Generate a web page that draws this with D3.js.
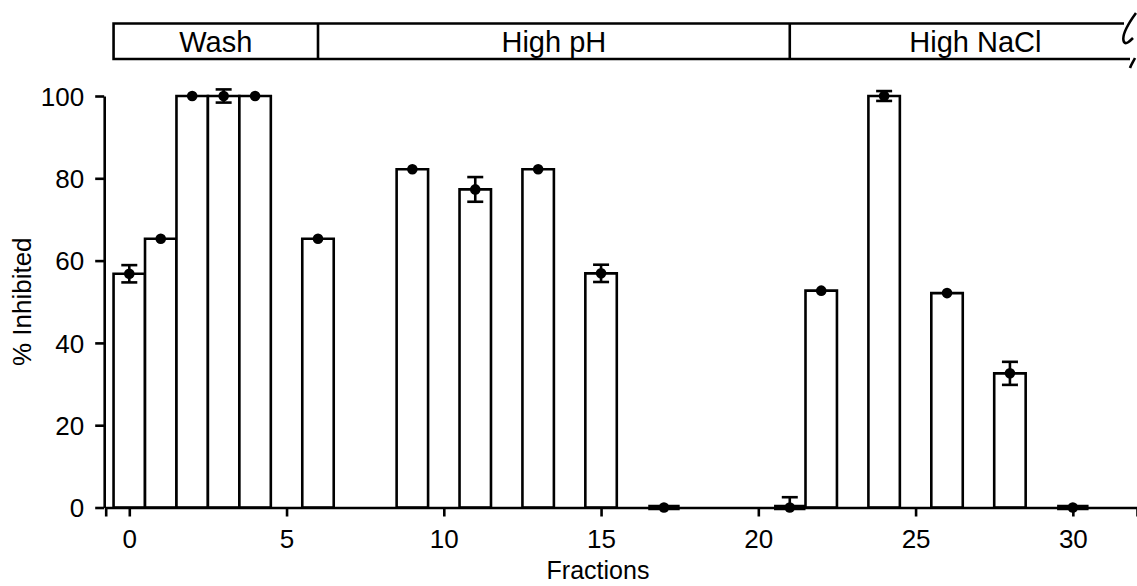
<!DOCTYPE html>
<html>
<head>
<meta charset="utf-8">
<script src="https://cdn.jsdelivr.net/npm/d3@7"></script>
<style>
  html, body { margin: 0; padding: 0; background: #fff; }
  svg { display: block; }
  text { font-family: "Liberation Sans", Arial, sans-serif; fill: #000; }
</style>
</head>
<body>
<svg id="chart" width="1137" height="586"></svg>
<script>
// ---- data ----
const fractions = [0, 1, 2, 3, 4, 6, 9, 11, 13, 15, 17, 21, 22, 24, 26, 28, 30];
const inhibited = [56.8, 65.3, 100, 100, 100, 65.3, 82.2, 77.3, 82.2, 56.9, 0, 0, 52.7, 100, 52.1, 32.6, 0];
const errors    = [2.1, 0, 0, 1.6, 0, 0, 0, 3.0, 0, 2.1, 0, 2.5, 0, 1.2, 0, 2.8, 0];
const xTicks = [0, 5, 10, 15, 20, 25, 30];
const yTicks = [0, 20, 40, 60, 80, 100];
const bandLabels = ["Wash", "High pH", "High NaCl"];
const bandEdges = [-0.5, 6, 21, 32.8];

// ---- layout ----
const svg = d3.select("#chart");
const X0 = 105.7, X1 = 1137;
const x = d3.scaleLinear().domain([-0.75, 32.04]).range([X0, X1]);
const y = d3.scaleLinear().domain([0, 100]).range([507.5, 96]);
const SW = 2.6;
const FONT = '"Liberation Sans", Arial, sans-serif';

// bars
const g = svg.append("g");
fractions.forEach((f, i) => {
  const v = inhibited[i];
  const xl = x(f - 0.5), xr = x(f + 0.5);
  const yt = y(v), yb = y(0);
  g.append("path")
    .attr("d", `M${xl},${yb}V${yt}H${xr}V${yb}Z`)
    .attr("fill", "#fff")
    .attr("stroke", "#000")
    .attr("stroke-width", v === 0 ? 5.5 : SW)
    .attr("stroke-linejoin", "miter");
});

// axes
const yAxis = d3.axisLeft(y).tickValues(yTicks).tickSize(9).tickSizeOuter(0).tickPadding(11);
const yg = svg.append("g").attr("transform", `translate(${X0 - 1.5},0)`).call(yAxis);
const xAxis = d3.axisBottom(x).tickValues(xTicks).tickSize(9).tickSizeOuter(9).tickPadding(13);
const xg = svg.append("g").attr("transform", `translate(0,${y(0)})`).call(xAxis);
[yg, xg].forEach(a => {
  a.selectAll("path, line").attr("stroke", "#000").attr("stroke-width", SW);
  a.selectAll("text").style("font-size", "26px").style("font-family", FONT).attr("fill", "#000");
});
yg.selectAll(".tick text").attr("dy", "0.36em");

// error bars and dots
const eg = svg.append("g");
fractions.forEach((f, i) => {
  const v = inhibited[i], e = errors[i];
  const cx = x(f);
  if (e > 0) {
    const lo = Math.max(0, v - e), hi = v + e;
    eg.append("line").attr("x1", cx).attr("x2", cx).attr("y1", y(lo)).attr("y2", y(hi))
      .attr("stroke", "#000").attr("stroke-width", SW);
    [v + e, v - e].forEach(val => {
      if (val >= 0) {
        eg.append("line").attr("x1", cx - 8).attr("x2", cx + 8).attr("y1", y(val)).attr("y2", y(val))
          .attr("stroke", "#000").attr("stroke-width", SW);
      }
    });
  }
  eg.append("circle").attr("cx", cx).attr("cy", y(v)).attr("r", 5.3).attr("fill", "#000");
});

// axis titles
svg.append("text").attr("x", 598).attr("y", 579).attr("text-anchor", "middle")
  .style("font-size", "25px").text("Fractions");
svg.append("text").attr("transform", `translate(31,${(y(0) + y(100)) / 2}) rotate(-90)`)
  .attr("text-anchor", "middle").style("font-size", "26px").text("% Inhibited");

// top band
const bandTop = 23.5, bandBot = 59;
const breakX = 1124;
const bg = svg.append("g").attr("stroke", "#000").attr("stroke-width", SW).attr("fill", "none");
bg.append("path").attr("d", `M${breakX},${bandTop}H${x(bandEdges[0])}V${bandBot}H${breakX + 6}`);
bandEdges.slice(1, -1).forEach(b => {
  bg.append("line").attr("x1", x(b)).attr("x2", x(b)).attr("y1", bandTop).attr("y2", bandBot);
});
// break squiggle
bg.append("path").attr("d", `M1136,13 C1128,24 1121,36 1124,42 C1126,45 1130,41 1133,38`);
bg.append("path").attr("d", `M1135,58 C1133,62 1131,65 1130,68`);
bandLabels.forEach((t, i) => {
  svg.append("text").attr("x", x((bandEdges[i] + bandEdges[i + 1]) / 2)).attr("y", 52)
    .attr("text-anchor", "middle").style("font-size", "29px").text(t);
});
</script>
</body>
</html>
